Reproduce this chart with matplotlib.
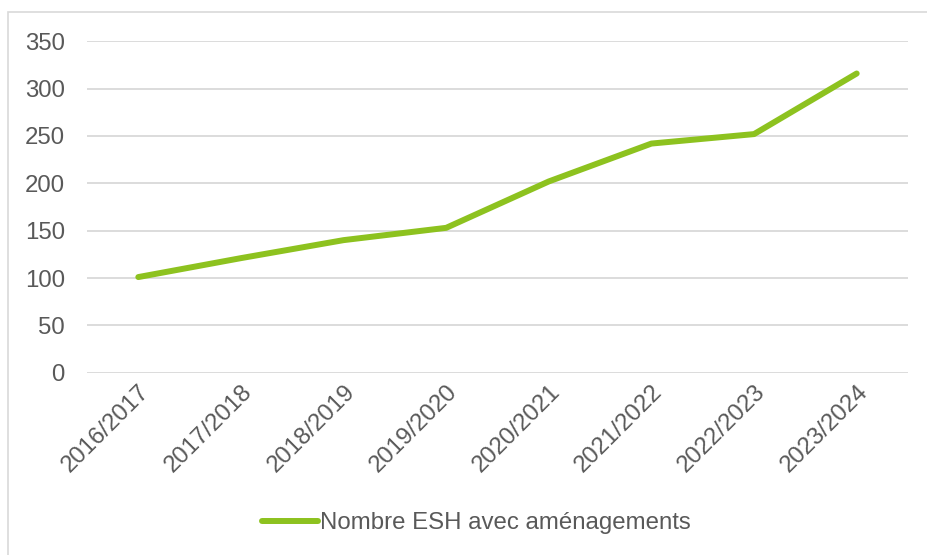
import matplotlib
matplotlib.use("Agg")
import matplotlib.pyplot as plt
from matplotlib.patches import Rectangle

categories = ["2016/2017", "2017/2018", "2018/2019", "2019/2020",
              "2020/2021", "2021/2022", "2022/2023", "2023/2024"]
values = [101, 121, 140, 153, 202, 242, 252, 316]
series_name = "Nombre ESH avec aménagements"
yticks = [0, 50, 100, 150, 200, 250, 300, 350]

plt.rcParams['font.family'] = ['Liberation Sans', 'DejaVu Sans']
text_color = '#595959'
grid_color = '#D9D9D9'
line_color = '#8DC21F'
fs = 17.3

fig = plt.figure(figsize=(9.27, 5.55), dpi=100)
fig.patches.append(Rectangle((8/927, -0.1), 1.2, 1 - 12/555 + 0.1,
                             transform=fig.transFigure, fill=False,
                             edgecolor='#D9D9D9', linewidth=1.2))
ax = fig.add_axes([87/927, 1 - 372.7/555, (908 - 87)/927, (372.7 - 41.3)/555])

x = list(range(len(categories)))
ax.plot(x, values, color=line_color, linewidth=4.3, solid_capstyle='round',
        solid_joinstyle='round', label=series_name, zorder=3)

ax.set_xlim(-0.5, len(categories) - 0.5)
ax.set_ylim(0, 350)
ax.set_yticks(yticks)
ax.set_yticklabels([str(v) for v in yticks])
ax.set_xticks(x)
ax.set_xticklabels(categories, rotation=45, ha='right', va='top',
                   rotation_mode='anchor')
ax.tick_params(axis='both', length=0, labelsize=fs, labelcolor=text_color)
ax.tick_params(axis='y', pad=16)
ax.tick_params(axis='x', pad=6)
ax.grid(axis='y', color=grid_color, linewidth=1.3)
ax.set_axisbelow(True)
for s in ax.spines.values():
    s.set_visible(False)

leg = fig.legend(loc='center', bbox_to_anchor=(0.514, 1 - 523/555), frameon=False,
                 fontsize=fs, handlelength=2.3, handletextpad=0.1)
for t in leg.get_texts():
    t.set_color(text_color)

fig.savefig('out.png', dpi=100)
